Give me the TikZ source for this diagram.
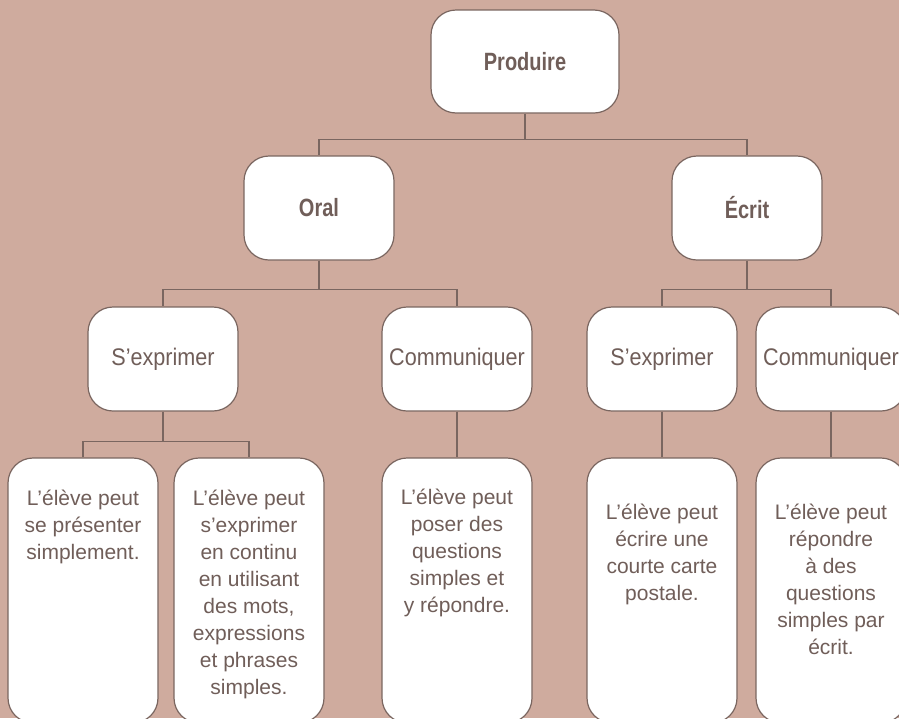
\documentclass[tikz,border=0pt]{standalone}
\usepackage{fontspec}
\setmainfont{Liberation Sans}
\newfontfamily\condfont{Liberation Sans}[FakeStretch=0.9]
\newfontfamily\headfont{Liberation Sans}[FakeStretch=0.8]
\usetikzlibrary{calc,positioning}
\definecolor{bgtan}{RGB}{207,171,158}
\definecolor{edgebrown}{RGB}{122,102,96}
\definecolor{textbrown}{RGB}{112,94,89}
\tikzstyle{block} = [draw=edgebrown, fill=white, rectangle, rounded corners=25pt,
    line width=1.2pt, minimum width=150pt, minimum height=104pt, inner sep=0pt,
    text=textbrown]
\tikzstyle{tblock} = [block, font=\headfont\bfseries\fontsize{25}{28}\selectfont]
\tikzstyle{mblock} = [block, font=\condfont\fontsize{24}{28}\selectfont]
\tikzstyle{lblock} = [block, minimum height=265pt]
\tikzstyle{ltext} = [anchor=north, align=center, inner sep=0pt, text=textbrown,
    font=\fontsize{21}{27}\selectfont]
\tikzstyle{wire} = [draw=edgebrown, line width=1.2pt]
\begin{document}
\begin{tikzpicture}[x=1pt,y=-1pt]
\clip (0,0) rectangle (899,718);
\fill[bgtan] (0,0) rectangle (899,718);

% top levels
\node (prod) [tblock,minimum width=188pt,minimum height=103pt] at (525,61.5) {Produire};
\node (oral) [tblock] at (319,208) {Oral};
\node (ecrit) [tblock] at (747,208) {Écrit};

\node (oral_expr) [mblock] at (163,359) {S’exprimer};
\node (oral_comm) [mblock] at (457,359) {Communiquer};
\node (ecrit_expr) [mblock] at (662,359) {S’exprimer};
\node (ecrit_comm) [mblock] at (831,359) {Communiquer};

% bottom boxes, text set from the top
\node (present) [lblock] at (83,590.5) {};
\node (continu) [lblock] at (249,590.5) {};
\node (questions) [lblock] at (457,590.5) {};
\node (carte) [lblock] at (662,590.5) {};
\node (reponse) [lblock] at (831,590.5) {};

\node (present_txt) [ltext] at ($(present.north)+(0,32)$) {L’élève peut\\se présenter\\simplement.};
\node (continu_txt) [ltext] at ($(continu.north)+(0,32)$) {L’élève peut\\s’exprimer\\en continu\\en utilisant\\des mots,\\expressions\\et phrases\\simples.};
\node (questions_txt) [ltext] at ($(questions.north)+(0,31)$) {L’élève peut\\poser des\\questions\\simples et\\y répondre.};
\node (carte_txt) [ltext] at ($(carte.north)+(0,46)$) {L’élève peut\\écrire une\\courte carte\\postale.};
\node (reponse_txt) [ltext] at ($(reponse.north)+(0,46)$) {L’élève peut\\répondre\\à des\\questions\\simples par\\écrit.};

% connectors
\coordinate (junctn_prod) at ($(prod.south)+(0,26)$);
\draw[wire] (prod.south) -- (junctn_prod) -| (oral.north);
\draw[wire] (junctn_prod) -| (ecrit.north);

\coordinate (junctn_oral) at ($(oral.south)+(0,29)$);
\draw[wire] (oral.south) -- (junctn_oral) -| (oral_expr.north);
\draw[wire] (junctn_oral) -| (oral_comm.north);

\coordinate (junctn_ecrit) at ($(ecrit.south)+(0,29)$);
\draw[wire] (ecrit.south) -- (junctn_ecrit) -| (ecrit_expr.north);
\draw[wire] (junctn_ecrit) -| (ecrit_comm.north);

\coordinate (junctn_expr) at ($(oral_expr.south)+(0,30)$);
\draw[wire] (oral_expr.south) -- (junctn_expr) -| (present.north);
\draw[wire] (junctn_expr) -| (continu.north);

\draw[wire] (oral_comm.south) -- (questions.north);
\draw[wire] (ecrit_expr.south) -- (carte.north);
\draw[wire] (ecrit_comm.south) -- (reponse.north);

\end{tikzpicture}
\end{document}
